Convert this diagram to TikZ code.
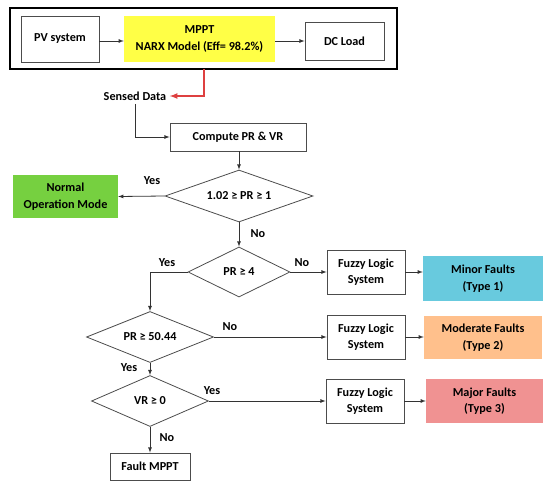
\documentclass[tikz,border=0pt]{standalone}
\usepackage{fontspec}
\setmainfont{Carlito}
\usetikzlibrary{shapes.geometric,arrows}

\definecolor{mpptyellow}{RGB}{255,255,70}
\definecolor{normalgreen}{RGB}{118,208,64}
\definecolor{minorcyan}{RGB}{104,202,222}
\definecolor{modorange}{RGB}{255,192,140}
\definecolor{majorpink}{RGB}{240,146,146}
\definecolor{sensedred}{RGB}{222,64,64}

\begin{document}
\begin{tikzpicture}[
		x=1pt, y=-1pt,
		every node/.style={font=\fontsize{12.2}{16.5}\selectfont\bfseries, align=center},
		box/.style={draw=black!70, line width=0.8pt, inner sep=0pt},
		fault/.style={inner sep=0pt},
		test/.style={diamond, draw=black!70, line width=0.8pt, inner sep=0pt, aspect=2.6},
		link/.style={draw=black!80, line width=0.8pt, -latex},
		lbl/.style={font=\fontsize{12.2}{14}\selectfont\bfseries}
	]
	\useasboundingbox (0,0) rectangle (550,485);

	\draw[line width=2.6pt] (10,8) rectangle (397,69);
	\node[box, minimum width=78pt, minimum height=46pt] (pv) at (60,39) {PV system};
	\node[fault, fill=mpptyellow, minimum width=151pt, minimum height=46pt] (mppt) at (199.5,39) {MPPT\\NARX Model (Eff= 98.2\%)};
	\node[box, minimum width=79pt, minimum height=38pt] (dc) at (344.5,41) {DC Load};
	\draw[link] (pv.east |- 0,41) -- (mppt.west |- 0,41);
	\draw[link] (mppt.east |- 0,41) -- (dc.west |- 0,41);

	\node (sensed) at (135,96) {Sensed Data};
	\draw[-latex, draw=sensedred, line width=1.6pt] (204,69) |- (sensed.east);

	\node[box, minimum width=136pt, minimum height=28pt] (compute) at (238,137) {Compute PR \& VR};
	\draw[link] (sensed.south) |- (compute.west);

	\node[test, minimum width=148pt, minimum height=52pt] (d1) at (239,196) {1.02 ≥ PR ≥ 1};
	\draw[link] (compute.south -| d1.north) -- (d1.north);
	\node[fault, fill=normalgreen, minimum width=105pt, minimum height=43pt] (normal) at (65.5,196.5) {Normal\\Operation Mode};
	\draw[link] (d1.west) -- (normal.east);
	\node[lbl] (y1) at (152,181) {Yes};

	\node[test, minimum width=102pt, minimum height=50pt] (d2) at (239,272) {PR ≥ 4};
	\draw[link] (d1.south) -- (d2.north);
	\node[lbl] (n1) at (258,234) {No};

	\node[box, minimum width=78pt, minimum height=44pt] (fz1) at (366,272) {Fuzzy Logic\\System};
	\node[fault, fill=minorcyan, minimum width=120pt, minimum height=45pt] (minor) at (483,278.5) {Minor Faults\\(Type 1)};
	\draw[link] (d2.east) -- (fz1.west);
	\draw[link] (fz1.east) -- (fz1.east -| minor.west);
	\node[lbl] (n2) at (302,263) {No};

	\node[test, minimum width=127pt, minimum height=51pt] (d3) at (150,337) {PR ≥ 50.44};
	\draw[link] (d2.west) -| (d3.north);
	\node[lbl] (y2) at (167,263) {Yes};

	\node[box, minimum width=78pt, minimum height=44pt] (fz2) at (366,337) {Fuzzy Logic\\System};
	\node[fault, fill=modorange, minimum width=118pt, minimum height=43pt] (moderate) at (483,337.5) {Moderate Faults\\(Type 2)};
	\draw[link] (d3.east) -- (fz2.west);
	\draw[link] (fz2.east) -- (fz2.east -| moderate.west);
	\node[lbl] (n3) at (230,327) {No};

	\node[test, minimum width=117pt, minimum height=51pt] (d4) at (150,401) {VR ≥ 0};
	\draw[link] (d3.south) -- (d4.north);
	\node[lbl] (y3) at (129,368) {Yes};

	\node[box, minimum width=78pt, minimum height=44pt] (fz3) at (365,401) {Fuzzy Logic\\System};
	\node[fault, fill=majorpink, minimum width=117pt, minimum height=44pt] (major) at (484.5,401) {Major Faults\\(Type 3)};
	\draw[link] (d4.east) -- (fz3.west);
	\draw[link] (fz3.east) -- (major.west);
	\node[lbl] (y4) at (212,391) {Yes};

	\node[box, minimum width=80pt, minimum height=27pt] (mpptfault) at (150,466.5) {Fault MPPT};
	\draw[link] (d4.south) -- (mpptfault.north);
	\node[lbl] (n4) at (167,438) {No};

\end{tikzpicture}
\end{document}
